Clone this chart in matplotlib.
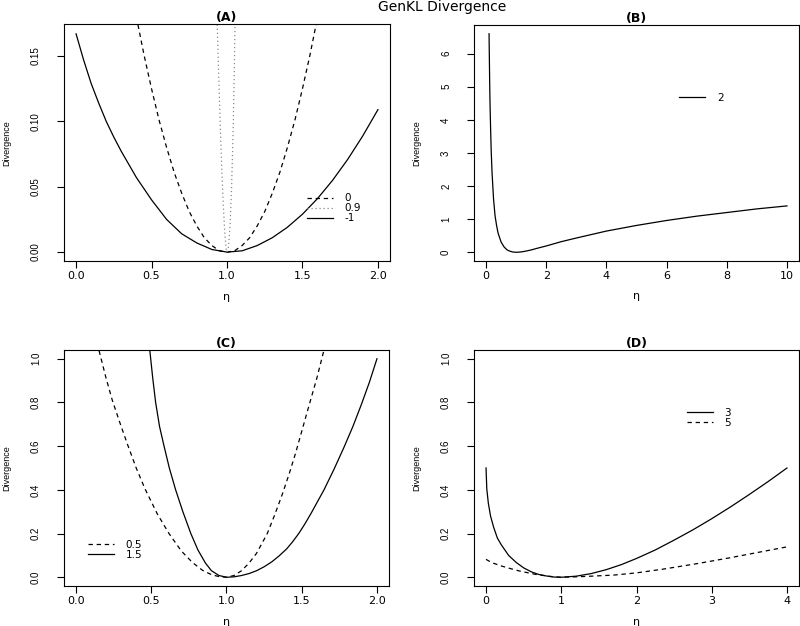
import matplotlib
matplotlib.use("Agg")
import matplotlib.pyplot as plt

# ---- values ----
# panel A
eta_a_m1 = [0, 0.05, 0.1, 0.15, 0.2, 0.25, 0.3, 0.4, 0.5, 0.6, 0.7, 0.8, 0.9, 1.0,
            1.1, 1.2, 1.3, 1.4, 1.5, 1.6, 1.7, 1.8, 1.9, 2.0]
div_a_m1 = [0.167, 0.147, 0.129, 0.114, 0.100, 0.088, 0.077, 0.057, 0.040, 0.025,
            0.014, 0.007, 0.002, 0.0, 0.001, 0.005, 0.011, 0.019, 0.029, 0.041,
            0.055, 0.071, 0.089, 0.109]
eta_a_0 = [0.41, 0.45, 0.5, 0.55, 0.6, 0.65, 0.7, 0.75, 0.8, 0.85, 0.9, 0.95, 1.0,
           1.05, 1.1, 1.15, 1.2, 1.25, 1.3, 1.35, 1.4, 1.45, 1.5, 1.55, 1.59]
div_a_0 = [0.174, 0.151, 0.125, 0.101, 0.080, 0.061, 0.045, 0.031, 0.020, 0.011,
           0.005, 0.001, 0.0, 0.001, 0.005, 0.011, 0.020, 0.031, 0.045, 0.061,
           0.080, 0.101, 0.125, 0.151, 0.174]
eta_a_09 = [0.935, 0.945, 0.955, 0.965, 0.975, 0.985, 0.995, 1.0, 1.01, 1.02,
            1.03, 1.04, 1.047, 1.053]
div_a_09 = [0.174, 0.135, 0.098, 0.065, 0.037, 0.015, 0.002, 0.0, 0.004, 0.020,
            0.048, 0.090, 0.130, 0.174]

# panel B
eta_b_2 = [0.1, 0.11, 0.12, 0.13, 0.15, 0.17, 0.2, 0.25, 0.3, 0.35, 0.4, 0.5, 0.6,
           0.7, 0.8, 0.9, 1.0, 1.1, 1.2, 1.3, 1.5, 1.7, 2, 2.5, 3, 4, 5, 6, 7, 8,
           9, 10]
div_b_2 = [6.6, 5.9, 5.2, 4.6, 3.8, 3.1, 2.4, 1.6, 1.1, 0.81, 0.58, 0.31, 0.16,
           0.07, 0.03, 0.006, 0.0, 0.004, 0.015, 0.03, 0.07, 0.12, 0.19, 0.32,
           0.43, 0.64, 0.81, 0.96, 1.09, 1.2, 1.31, 1.4]

# panel C
eta_c_05 = [0.153, 0.2, 0.241, 0.29, 0.341, 0.4, 0.458, 0.54, 0.618, 0.7, 0.773,
            0.84, 0.9, 0.95, 1.0, 1.05, 1.1, 1.15, 1.2, 1.271, 1.32, 1.371, 1.415,
            1.46, 1.505, 1.548, 1.6, 1.648]
div_c_05 = [1.037, 0.91, 0.81, 0.71, 0.61, 0.5, 0.405, 0.29, 0.2, 0.12, 0.068,
            0.032, 0.012, 0.003, 0.0, 0.008, 0.03, 0.065, 0.11, 0.2, 0.285, 0.38,
            0.47, 0.57, 0.68, 0.785, 0.91, 1.04]
eta_c_15 = [0.49, 0.51, 0.529, 0.555, 0.585, 0.62, 0.662, 0.71, 0.763, 0.81, 0.86,
            0.9, 0.95, 1.0, 1.05, 1.1, 1.15, 1.2, 1.25, 1.3, 1.35, 1.4, 1.44, 1.48,
            1.52, 1.56, 1.6, 1.648, 1.715, 1.781, 1.84, 1.896, 1.95, 2.0]
div_c_15 = [1.04, 0.91, 0.8, 0.69, 0.6, 0.5, 0.4, 0.3, 0.2, 0.125, 0.065, 0.03,
            0.008, 0.0, 0.002, 0.008, 0.017, 0.03, 0.048, 0.07, 0.098, 0.13, 0.163,
            0.2, 0.243, 0.29, 0.34, 0.40, 0.495, 0.595, 0.69, 0.79, 0.893, 1.0]

# panel D
eta_d_3 = [0, 0.01, 0.03, 0.06, 0.1, 0.15, 0.2, 0.3, 0.4, 0.5, 0.6, 0.7, 0.8, 0.9,
           1.0, 1.2, 1.4, 1.6, 1.8, 2.0, 2.25, 2.5, 2.75, 3.0, 3.25, 3.5, 3.75, 4.0]
div_d_3 = [0.5, 0.405, 0.34, 0.28, 0.23, 0.18, 0.15, 0.10, 0.068, 0.043, 0.025,
           0.013, 0.006, 0.001, 0.0, 0.005, 0.017, 0.035, 0.058, 0.086, 0.125,
           0.17, 0.217, 0.268, 0.322, 0.379, 0.438, 0.5]
eta_d_5 = [0, 0.05, 0.1, 0.2, 0.3, 0.44, 0.66, 0.85, 1.0, 1.2, 1.4, 1.7, 2.0, 2.35,
           2.8, 3.24, 3.68, 4.0]
div_d_5 = [0.082, 0.072, 0.064, 0.052, 0.042, 0.029, 0.013, 0.004, 0.0, 0.002,
           0.005, 0.01, 0.02, 0.037, 0.062, 0.089, 0.118, 0.139]

W, H = 800, 626
fig = plt.figure(figsize=(8, 6.26), dpi=100)


def box(l, t, r, b):
    return [l / W, 1 - b / H, (r - l) / W, (b - t) / H]


DASH = (0, (3.5, 3))
DOT = (0, (1, 2.2))
LW = 0.9


def style(ax, title, xlim, ylim, xticks, xlabels, yticks, ylabels, xlab_y):
    ax.set_xlim(*xlim)
    ax.set_ylim(*ylim)
    ax.set_xticks(xticks)
    ax.set_xticklabels(xlabels, fontsize=8, family="DejaVu Sans")
    ax.set_yticks(yticks)
    ax.set_yticklabels(ylabels, fontsize=7, family="Liberation Sans")
    for lbl in ax.get_yticklabels():
        lbl.set_rotation(90)
        lbl.set_va("center")
    ax.tick_params(axis="x", length=5, width=0.8, pad=2, direction="out")
    ax.tick_params(axis="y", length=5, width=0.8, pad=11.5, direction="out")
    for s in ax.spines.values():
        s.set_linewidth(0.8)
    ax.set_title(title, fontsize=9, fontweight="bold", pad=1.5)
    ax.set_xlabel("\u03b7", fontsize=8, va="center")
    ax.xaxis.set_label_coords(0.5, xlab_y)
    ax.set_ylabel("Divergence", fontsize=6.5, family="Liberation Sans", va="center")
    ax.yaxis.set_label_coords(-0.177, 0.5)


def legend(ax, handles, labels, x, y):
    ax.legend(handles, labels, loc="center left", bbox_to_anchor=(x, y),
              frameon=False, fontsize=7.5, handlelength=2.5, handletextpad=1.1,
              labelspacing=0.0, borderpad=0, borderaxespad=0)


# (A)
axA = fig.add_axes(box(64, 24.3, 390, 261))
lA1, = axA.plot(eta_a_m1, div_a_m1, color="black", lw=LW)
lA0, = axA.plot(eta_a_0, div_a_0, color="black", lw=LW, linestyle=DASH)
lA9, = axA.plot(eta_a_09, div_a_09, color="#8a8a8a", lw=LW, linestyle=DOT)
style(axA, "(A)", (-0.08, 2.08), (-0.0068, 0.1743),
      [0, 0.5, 1, 1.5, 2], ["0.0", "0.5", "1.0", "1.5", "2.0"],
      [0, 0.05, 0.10, 0.15], ["0.00", "0.05", "0.10", "0.15"], -0.15)
legend(axA, [lA0, lA9, lA1], ["0", "0.9", "-1"], 0.745, 0.222)

# (B)
axB = fig.add_axes(box(474, 25, 799, 261))
lB2, = axB.plot(eta_b_2, div_b_2, color="black", lw=LW)
style(axB, "(B)", (-0.4, 10.4), (-0.264, 6.864),
      [0, 2, 4, 6, 8, 10], ["0", "2", "4", "6", "8", "10"],
      [0, 1, 2, 3, 4, 5, 6], ["0", "1", "2", "3", "4", "5", "6"], -0.15)
legend(axB, [lB2], ["2"], 0.632, 0.692)

# (C)
axC = fig.add_axes(box(64, 350, 389, 586))
lC15, = axC.plot(eta_c_15, div_c_15, color="black", lw=LW)
lC05, = axC.plot(eta_c_05, div_c_05, color="black", lw=LW, linestyle=DASH)
style(axC, "(C)", (-0.08, 2.08), (-0.04, 1.04),
      [0, 0.5, 1, 1.5, 2], ["0.0", "0.5", "1.0", "1.5", "2.0"],
      [0, 0.2, 0.4, 0.6, 0.8, 1.0], ["0.0", "0.2", "0.4", "0.6", "0.8", "1.0"], -0.153)
legend(axC, [lC05, lC15], ["0.5", "1.5"], 0.075, 0.154)

# (D)
axD = fig.add_axes(box(474, 350, 799, 586))
lD3, = axD.plot(eta_d_3, div_d_3, color="black", lw=LW)
lD5, = axD.plot(eta_d_5, div_d_5, color="black", lw=LW, linestyle=DASH)
style(axD, "(D)", (-0.16, 4.16), (-0.04, 1.04),
      [0, 1, 2, 3, 4], ["0", "1", "2", "3", "4"],
      [0, 0.2, 0.4, 0.6, 0.8, 1.0], ["0.0", "0.2", "0.4", "0.6", "0.8", "1.0"], -0.153)
legend(axD, [lD3, lD5], ["3", "5"], 0.654, 0.712)

fig.text(442 / W, 1.0, "GenKL Divergence", ha="center", va="top", fontsize=10)

fig.savefig("out.png", dpi=100)
